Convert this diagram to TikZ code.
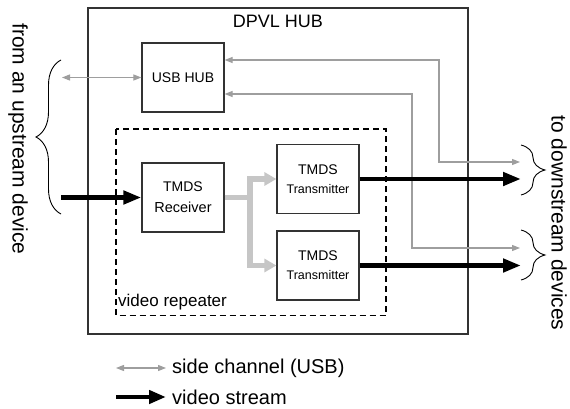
\documentclass[tikz,border=0pt]{standalone}
\usepackage{fontspec}
\setmainfont{Liberation Sans}
\usetikzlibrary{arrows.meta,decorations.pathreplacing,calc}
\definecolor{usbgray}{RGB}{158,158,158}
\definecolor{splitgray}{RGB}{198,198,198}
\begin{document}
\begin{tikzpicture}[x=1pt,y=-1pt,
  box/.style={draw=black!80, line width=1.2pt, minimum width=82pt, minimum height=69pt, inner sep=0pt, align=center, font=\fontsize{14}{21}\selectfont},
  usb/.style={draw=usbgray, line width=1.1pt, {Triangle[length=8pt,width=6pt]}-{Triangle[length=8pt,width=6pt]}},
  video/.style={draw=black, line width=4.5pt, -{Triangle[length=18pt,width=13pt]}},
  splitline/.style={draw=splitgray, line width=5.5pt},
  splitarrow/.style={splitline, -{Triangle[length=12pt,width=13pt]}},
  bracestyle/.style={draw=black, line width=0.9pt, decorate},
  side/.style={rotate=-90, font=\fontsize{21}{24}\selectfont, inner sep=0pt},
  legend/.style={anchor=west, inner xsep=6pt, inner ysep=0pt, font=\fontsize{20}{24}\selectfont}
]
\useasboundingbox (0,0) rectangle (570,409);

% outer box and dashed region
\draw[line width=1.5pt, draw=black!80] (88,8) rectangle (468,334);
\node[font=\fontsize{18}{20}\selectfont, inner sep=0pt] (title) at (278,21) {DPVL HUB};
\draw[line width=1.7pt, dash pattern=on 6pt off 4pt] (116,129) rectangle (386,315.5);
\node[anchor=west, font=\fontsize{17}{20}\selectfont, inner sep=0pt] (rep) at (118,302) {video repeater};

% boxes
\node[box] (hub) at (183,77.5) {USB HUB};
\node[box] (rcv) at (183,197.5) {TMDS\\\fontsize{14.5}{21}\selectfont Receiver};
\node[box, font=\fontsize{14}{19}\selectfont] (t1) at (318,179) {TMDS\\\fontsize{12.5}{19}\selectfont Transmitter};
\node[box, font=\fontsize{14}{19}\selectfont] (t2) at (318,265.5) {TMDS\\\fontsize{12.5}{19}\selectfont Transmitter};

% coordinates
\coordinate (usbin) at (62,77.5);
\coordinate (vin) at (61,197.5);
\coordinate (c1) at (439,60);
\coordinate (c2) at (412,94);
\coordinate (u1) at (520,162);
\coordinate (u2) at (520,248);
\coordinate (o1) at (521,179);
\coordinate (o2) at (521,265.5);
\coordinate (split) at (250,197.5);

% USB side channel
\draw[usb] (usbin) -- (hub.west);
\draw[usb] ([yshift=17.5pt]hub.east) -- (c1) |- (u1);
\draw[usb] ([yshift=-16.5pt]hub.east) -- (c2) |- (u2);

% video
\draw[video] (vin) -- (rcv.west);
\draw[video] (t1.east) -- (o1);
\draw[video] (t2.east) -- (o2);

% splitter
\draw[splitline] (rcv.east) -- (split);
\draw[splitarrow] (split) |- (t1.west);
\draw[splitarrow] (split) |- (t2.west);

% braces
\coordinate (lb1) at (61,214);
\coordinate (lb2) at (61,60);
\draw[bracestyle, decoration={brace, amplitude=25pt}] (lb1) -- (lb2);
\coordinate (rb1) at (521,145);
\coordinate (rb2) at (521,195);
\draw[bracestyle, decoration={brace, amplitude=24pt}] (rb1) -- (rb2);
\coordinate (rb3) at (521,230);
\coordinate (rb4) at (521,280);
\draw[bracestyle, decoration={brace, amplitude=24pt}] (rb3) -- (rb4);

% side texts
\node[side] (upstream) at (18,139) {from an upstream device};
\node[side] (downstream) at (559,223) {to downstream devices};

% legend
\node[legend] (leg1) at (166,368) {side channel (USB)};
\node[legend] (leg2) at (166,397) {video stream};
\coordinate (l1) at (116,368);
\coordinate (l2) at (116,397);
\draw[usb] (l1) -- (leg1.west);
\draw[draw=black, line width=4.5pt, -{Triangle[length=17pt,width=13pt]}] (l2) -- (leg2.west);
\end{tikzpicture}
\end{document}
